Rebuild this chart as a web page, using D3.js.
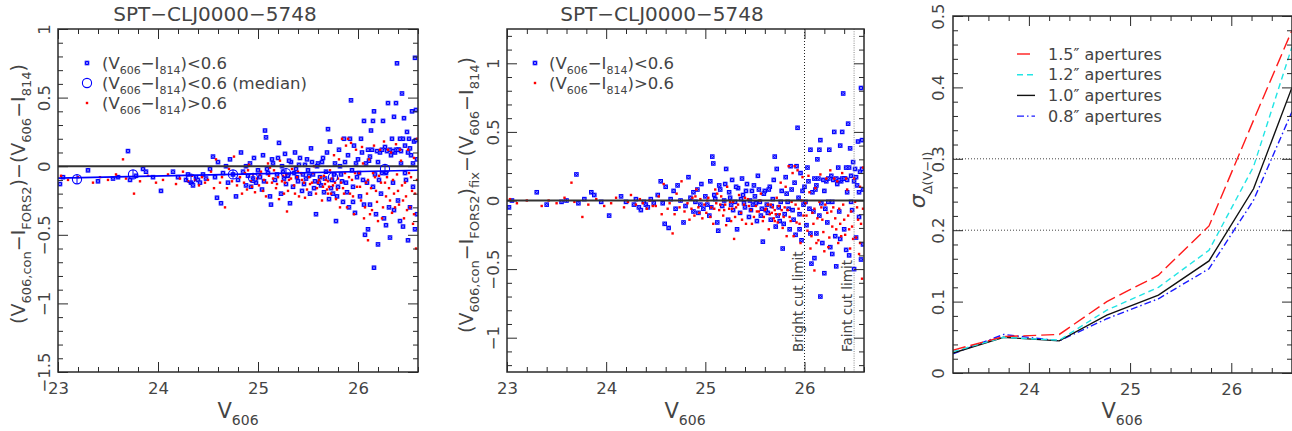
<!DOCTYPE html>
<html><head><meta charset="utf-8">
<script src="https://cdn.jsdelivr.net/npm/d3@7"></script>
<style>
body{margin:0;background:#fff}
svg{display:block}
text{font-family:"DejaVu Sans","Liberation Sans",Arial,sans-serif;fill:#444;font-weight:400}
</style></head>
<body><svg id="c" width="1292" height="431"></svg>
<script>
// ---------------- DATA ----------------
const titleText = "SPT\u2212CLJ0000\u22125748";
const xMajor = [23, 24, 25, 26];
const p1YMajor = [1, 0.5, 0, -0.5, -1, -1.5];
const p2YMajor = [1, 0.5, 0, -0.5, -1];
const p3XMajor = [24, 25, 26];
const p3YMajor = [0, 0.1, 0.2, 0.3, 0.4, 0.5];

// Panel 1: (V606,con - I_FORS2) - (V606 - I814) vs V606
const p1Blue = [[23.02,-0.13],[23.05,-0.08],[23.3,-0.03],[23.4,-0.11],[23.55,-0.09],[23.6,-0.08],[23.7,0.11],[23.72,-0.1],[23.78,-0.07],[23.85,-0.02],[23.88,-0.04],[23.95,-0.08],[24.03,-0.18],[24.15,-0.04],[24.2,-0.08],[24.28,-0.1],[24.3,-0.06],[24.33,-0.12],[24.35,-0.14],[24.38,-0.08],[24.4,-0.1],[24.42,-0.12],[24.45,-0.06],[24.48,-0.09],
[24.52,-0.02],[24.55,0.07],[24.57,-0.08],[24.59,-0.23],[24.6,0.03],[24.63,-0.27],[24.65,-0.05],[24.68,0.0],[24.7,-0.12],[24.72,0.05],[24.75,-0.06],[24.78,-0.22],[24.8,-0.1],[24.83,0.1],[24.85,-0.04],[24.88,-0.14],[24.9,-0.07],[24.92,0.02],[24.95,-0.09],[24.96,0.06],[24.98,-0.12],[25.0,-0.03],
[25.02,-0.08],[25.04,-0.17],[25.05,0.08],[25.07,0.26],[25.08,0.21],[25.1,-0.05],[25.12,-0.22],[25.13,-0.28],[25.15,0.02],[25.17,-0.1],[25.2,0.06],[25.21,0.17],[25.23,-0.2],[25.25,-0.04],[25.27,0.09],[25.28,-0.13],[25.3,-0.07],[25.32,-0.27],[25.33,0.03],[25.35,-0.15],[25.37,0.1],[25.38,-0.02],[25.4,-0.11],[25.42,0.06],[25.44,-0.18],[25.45,-0.06],[25.47,0.01],[25.48,-0.09],[25.5,-0.03],
[25.52,-0.2],[25.53,0.13],[25.55,-0.06],[25.57,-0.11],[25.58,-0.35],[25.6,0.02],[25.62,-0.08],[25.63,-0.14],[25.65,0.06],[25.66,-0.19],[25.68,-0.04],[25.7,0.27],[25.71,-0.24],[25.72,0.18],[25.74,-0.1],[25.75,-0.2],[25.77,0.02],[25.78,-0.4],[25.8,-0.15],[25.81,0.12],[25.83,-0.06],[25.85,-0.26],[25.86,0.2],[25.88,-0.12],[25.9,0.08],[25.91,-0.3],[25.93,0.48],[25.94,-0.03],[25.96,0.15],[25.97,-0.34],[25.99,-0.08],[26.0,0.05],
[26.02,-0.22],[26.03,0.2],[26.05,-0.1],[26.06,0.33],[26.07,-0.5],[26.08,0.02],[26.1,-0.46],[26.1,0.12],[26.12,-0.28],[26.13,0.26],[26.15,0.33],[26.15,-0.15],[26.16,0.4],[26.16,-0.74],[26.18,-0.35],[26.2,-0.57],[26.2,0.03],[26.22,0.1],[26.23,-0.2],[26.25,0.33],[26.26,-0.38],[26.27,0.14],[26.28,-0.05],[26.3,0.46],[26.31,-0.3],[26.32,-0.52],[26.33,0.08],[26.34,0.2],[26.35,-0.12],[26.36,0.36],[26.37,0.1],[26.38,0.46],[26.39,0.75],[26.4,-0.25],[26.41,0.12],[26.42,-0.4],[26.43,0.02],[26.44,0.53],[26.45,-0.44],[26.46,0.35],[26.47,0.15],[26.48,-0.1],[26.49,0.25],[26.5,-0.54],[26.51,0.2],[26.52,-0.3],[26.53,0.08],[26.54,0.4],[26.55,-0.15],[26.56,0.18],[26.57,0.79],[26.57,-0.46],[26.58,0.41],[26.59,-0.35],[26.59,0.05],
[24.88,0.0],[24.93,-0.15],[25.06,-0.11],[25.09,-0.02],[25.14,0.05],[25.19,-0.06],[25.24,0.0],[25.26,-0.09],[25.31,0.04],[25.36,-0.05],[25.39,-0.08],[25.41,0.01],[25.46,-0.13],[25.49,0.05],[25.51,-0.07],[25.54,0.03],[25.56,-0.16],[25.59,0.0],[25.61,-0.12],[25.64,0.03],[25.67,-0.09],[25.69,0.1],[25.73,-0.16],[25.76,-0.06],[25.79,-0.22],[25.82,0.0],[25.84,-0.11],[25.87,0.03],[25.89,-0.19],[25.92,0.2],[25.95,-0.15],[25.98,0.02],[26.01,-0.05],[26.04,0.1],[26.09,-0.12],[26.11,0.04],[26.14,0.12],[26.17,-0.06],[26.19,0.11],[26.21,-0.1],[26.24,0.12],[26.29,0.11],[26.32,0.12],[26.35,0.11],[26.38,0.12],[26.4,0.12],[26.43,0.11],[26.45,0.2],[26.47,-0.05],[26.5,0.1],[26.52,0.13],[26.55,0.02],[26.58,0.19],[26.42,0.2],[26.36,-0.32],[26.28,-0.43],[26.24,-0.05],[26.12,0.07],[26.06,-0.28],[25.95,-0.26]];

const p1Red = [[23.03,-0.07],[23.1,-0.1],[23.2,-0.08],[23.35,-0.12],[23.42,-0.08],[23.5,-0.1],[23.58,-0.06],[23.65,0.05],[23.68,-0.09],[23.76,-0.2],[23.82,-0.11],[23.9,-0.07],[23.98,-0.12],[24.05,-0.1],[24.1,-0.06],[24.18,-0.13],[24.22,-0.09],[24.25,-0.04],[24.3,-0.11],[24.34,-0.07],[24.37,-0.1],[24.41,-0.14],[24.44,-0.08],[24.47,-0.12],
[24.5,-0.1],[24.53,-0.04],[24.56,-0.16],[24.58,0.05],[24.62,-0.12],[24.64,-0.08],[24.67,-0.3],[24.69,-0.16],[24.71,-0.02],[24.74,-0.11],[24.76,0.07],[24.79,-0.14],[24.82,-0.08],[24.84,-0.2],[24.87,-0.05],[24.89,-0.17],[24.91,0.01],[24.93,-0.11],[24.95,-0.06],[24.97,-0.19],[24.99,-0.09],
[25.01,-0.14],[25.03,-0.04],[25.06,-0.1],[25.08,-0.22],[25.1,0.02],[25.11,-0.07],[25.14,-0.12],[25.16,-0.03],[25.18,-0.16],[25.2,-0.08],[25.22,0.04],[25.24,-0.11],[25.26,-0.2],[25.28,-0.06],[25.29,-0.33],[25.31,-0.1],[25.34,-0.02],[25.36,-0.14],[25.39,-0.08],[25.41,-0.22],[25.43,-0.05],[25.46,-0.12],[25.49,-0.17],
[25.51,-0.08],[25.54,-0.12],[25.56,0.0],[25.59,-0.16],[25.61,-0.1],[25.64,-0.25],[25.66,-0.07],[25.67,-0.13],[25.69,-0.17],[25.7,-0.11],[25.72,-0.03],[25.73,-0.2],[25.75,-0.14],[25.76,0.08],[25.78,-0.24],[25.8,-0.09],[25.82,-0.3],[25.84,0.2],[25.85,-0.16],[25.87,-0.05],[25.89,-0.3],[25.9,0.2],[25.92,-0.2],[25.94,-0.1],[25.96,-0.35],[25.98,0.12],[25.99,-0.15],
[26.01,-0.05],[26.03,-0.25],[26.04,0.14],[26.06,-0.38],[26.08,-0.12],[26.09,-0.2],[26.1,-0.54],[26.11,0.05],[26.13,-0.16],[26.14,-0.32],[26.16,0.15],[26.17,-0.08],[26.19,-0.26],[26.2,-0.4],[26.22,0.12],[26.23,-0.12],[26.25,-0.3],[26.26,0.18],[26.28,-0.22],[26.29,-0.08],[26.31,-0.16],[26.33,0.1],[26.34,-0.34],[26.36,-0.2],[26.38,0.16],[26.39,-0.06],[26.41,-0.28],[26.43,0.04],[26.44,-0.14],[26.46,-0.38],[26.48,-0.22],[26.5,0.12],[26.52,-0.3],[26.53,-0.08],[26.55,-0.42],[26.56,0.06],[26.57,-0.2],[26.58,-0.6],[26.59,0.2],
[24.86,-0.12],[24.9,-0.03],[24.94,-0.15],[25.02,-0.06],[25.05,-0.18],[25.09,-0.12],[25.12,-0.01],[25.15,-0.09],[25.19,-0.13],[25.21,-0.24],[25.25,-0.07],[25.27,-0.12],[25.3,-0.18],[25.33,-0.09],[25.37,-0.2],[25.4,-0.04],[25.44,-0.1],[25.47,-0.23],[25.52,-0.13],[25.55,-0.05],[25.58,-0.2],[25.6,-0.12],[25.63,-0.08],[25.65,-0.15],[25.68,-0.1],[25.7,-0.2],[25.71,-0.15],[25.74,-0.09],[25.77,-0.12],[25.79,-0.17],[25.81,0.05],[25.83,-0.12],[25.86,-0.2],[25.88,0.15],[25.91,-0.08],[25.93,0.17],[25.95,-0.22],[25.97,-0.05],[26.02,-0.15],[26.05,0.02],[26.07,-0.3],[26.1,-0.1],[26.12,-0.35],[26.15,-0.05],[26.18,-0.18],[26.21,-0.07],[26.24,-0.38],[26.27,-0.12],[26.3,0.12],[26.32,-0.25],[26.35,-0.1],[26.37,-0.3],[26.4,-0.18],[26.42,0.12],[26.45,-0.25],[26.47,-0.12],[26.49,-0.32],[26.51,-0.05],[26.54,-0.18],[26.56,-0.35],[26.59,-0.1]];

const p1MedianX = [23.19, 23.75, 24.33, 24.75, 24.95, 25.28, 25.75, 26.27];
const p1MedianY = [-0.095, -0.06, -0.09, -0.06, -0.085, -0.05, -0.08, -0.02];
const p1MedianErr = [0.033, 0.033, 0.033, 0.033, 0.033, 0.033, 0.033, 0.033];
const p1FitX = [23, 26.6];
const p1FitY = [-0.087, -0.03];

// Panel 2: fixed offsets
const p2Blue = [[23.02,-0.05],[23.05,0.0],[23.3,0.06],[23.4,-0.03],[23.55,-0.01],[23.6,0.0],[23.7,0.19],[23.72,-0.02],[23.78,0.01],[23.85,0.06],[23.88,0.04],[23.95,-0.01],[24.03,-0.11],[24.15,0.03],[24.2,-0.01],[24.28,-0.03],[24.3,0.01],[24.33,-0.05],[24.35,-0.07],[24.38,-0.01],[24.4,-0.03],[24.42,-0.05],[24.45,0.01],[24.48,-0.02],
[24.52,0.04],[24.55,0.14],[24.57,-0.02],[24.59,-0.17],[24.6,0.1],[24.63,-0.2],[24.65,0.01],[24.68,0.07],[24.7,-0.06],[24.72,0.11],[24.75,0.0],[24.78,-0.16],[24.8,-0.04],[24.83,0.17],[24.85,0.02],[24.88,-0.08],[24.9,-0.01],[24.92,0.08],[24.95,-0.03],[24.96,0.12],[24.98,-0.06],[25.0,0.03],
[25.02,-0.03],[25.04,-0.11],[25.05,0.14],[25.07,0.32],[25.08,0.27],[25.1,0.01],[25.12,-0.16],[25.13,-0.22],[25.15,0.08],[25.17,-0.04],[25.2,0.12],[25.21,0.23],[25.23,-0.14],[25.25,0.02],[25.27,0.15],[25.28,-0.07],[25.3,-0.01],[25.32,-0.21],[25.33,0.09],[25.35,-0.09],[25.37,0.16],[25.38,0.04],[25.4,-0.05],[25.42,0.12],[25.44,-0.12],[25.45,0.0],[25.47,0.07],[25.48,-0.03],[25.5,0.03],
[25.52,-0.15],[25.53,0.18],[25.55,-0.01],[25.57,-0.06],[25.58,-0.3],[25.6,0.07],[25.62,-0.03],[25.63,-0.09],[25.65,0.1],[25.66,-0.14],[25.68,0.01],[25.7,0.32],[25.71,-0.19],[25.72,0.23],[25.74,-0.05],[25.75,-0.15],[25.77,0.07],[25.78,-0.35],[25.8,-0.1],[25.81,0.17],[25.83,-0.01],[25.85,-0.21],[25.86,0.25],[25.88,-0.07],[25.9,0.13],[25.91,-0.25],[25.93,0.53],[25.94,0.02],[25.96,0.2],[25.97,-0.29],[25.99,-0.03],[26.0,0.1],
[26.02,-0.18],[26.03,0.24],[26.05,-0.06],[26.06,0.37],[26.07,-0.46],[26.08,0.06],[26.1,-0.42],[26.1,0.16],[26.12,-0.24],[26.13,0.3],[26.15,0.37],[26.15,-0.11],[26.16,0.44],[26.16,-0.7],[26.18,-0.31],[26.2,-0.53],[26.2,0.07],[26.22,0.14],[26.23,-0.16],[26.25,0.37],[26.26,-0.34],[26.27,0.18],[26.28,-0.01],[26.3,0.5],[26.31,-0.26],[26.32,-0.48],[26.33,0.12],[26.34,0.24],[26.35,-0.08],[26.36,0.4],[26.37,0.14],[26.38,0.5],[26.39,0.78],[26.4,-0.21],[26.41,0.16],[26.42,-0.36],[26.43,0.06],[26.44,0.56],[26.45,-0.4],[26.46,0.38],[26.47,0.18],[26.48,-0.07],[26.49,0.28],[26.5,-0.5],[26.51,0.23],[26.52,-0.27],[26.53,0.11],[26.54,0.43],[26.55,-0.12],[26.56,0.21],[26.57,0.82],[26.57,-0.43],[26.58,0.44],[26.59,-0.32],[26.59,0.08],
[24.88,0.06],[24.93,-0.09],[25.06,-0.05],[25.09,0.04],[25.14,0.11],[25.19,0.0],[25.24,0.06],[25.26,-0.03],[25.31,0.1],[25.36,0.01],[25.39,-0.02],[25.41,0.07],[25.46,-0.07],[25.49,0.11],[25.51,-0.02],[25.54,0.08],[25.56,-0.11],[25.59,0.05],[25.61,-0.07],[25.64,0.08],[25.67,-0.04],[25.69,0.15],[25.73,-0.11],[25.76,-0.01],[25.79,-0.17],[25.82,0.05],[25.84,-0.06],[25.87,0.08],[25.89,-0.14],[25.92,0.25],[25.95,-0.1],[25.98,0.07],[26.01,-0.01],[26.04,0.14],[26.09,-0.08],[26.11,0.08],[26.14,0.16],[26.17,-0.02],[26.19,0.15],[26.21,-0.06],[26.24,0.16],[26.29,0.15],[26.32,0.16],[26.35,0.15],[26.38,0.16],[26.4,0.16],[26.43,0.15],[26.45,0.24],[26.47,-0.01],[26.5,0.14],[26.52,0.17],[26.55,0.06],[26.58,0.23],[26.42,0.24],[26.36,-0.28],[26.28,-0.39],[26.24,-0.01],[26.12,0.11],[26.06,-0.24],[25.95,-0.21]];

const p2Red = [[23.03,0.01],[23.1,-0.02],[23.2,0.0],[23.35,-0.04],[23.42,0.0],[23.5,-0.02],[23.58,0.02],[23.65,0.13],[23.68,-0.01],[23.76,-0.12],[23.82,-0.03],[23.9,0.01],[23.98,-0.04],[24.05,-0.02],[24.1,0.02],[24.18,-0.05],[24.22,-0.01],[24.25,0.04],[24.3,-0.03],[24.34,0.01],[24.37,-0.02],[24.41,-0.06],[24.44,0.0],[24.47,-0.04],
[24.5,-0.04],[24.53,0.03],[24.56,-0.1],[24.58,0.12],[24.62,-0.06],[24.64,-0.02],[24.67,-0.24],[24.69,-0.1],[24.71,0.05],[24.74,-0.05],[24.76,0.14],[24.79,-0.08],[24.82,-0.02],[24.84,-0.14],[24.87,0.02],[24.89,-0.11],[24.91,0.08],[24.93,-0.05],[24.95,0.01],[24.97,-0.13],[24.99,-0.03],
[25.01,-0.09],[25.03,0.02],[25.06,-0.05],[25.08,-0.17],[25.1,0.08],[25.11,-0.02],[25.14,-0.07],[25.16,0.03],[25.18,-0.11],[25.2,-0.03],[25.22,0.1],[25.24,-0.06],[25.26,-0.15],[25.28,-0.01],[25.29,-0.28],[25.31,-0.05],[25.34,0.04],[25.36,-0.09],[25.39,-0.03],[25.41,-0.17],[25.43,0.01],[25.46,-0.07],[25.49,-0.12],
[25.51,-0.04],[25.54,-0.08],[25.56,0.05],[25.59,-0.12],[25.61,-0.06],[25.64,-0.21],[25.66,-0.03],[25.67,-0.09],[25.69,-0.13],[25.7,-0.07],[25.72,0.02],[25.73,-0.16],[25.75,-0.1],[25.76,0.13],[25.78,-0.2],[25.8,-0.05],[25.82,-0.26],[25.84,0.25],[25.85,-0.12],[25.87,-0.01],[25.89,-0.26],[25.9,0.25],[25.92,-0.16],[25.94,-0.06],[25.96,-0.31],[25.98,0.17],[25.99,-0.11],
[26.01,-0.02],[26.03,-0.22],[26.04,0.18],[26.06,-0.35],[26.08,-0.09],[26.09,-0.17],[26.1,-0.51],[26.11,0.09],[26.13,-0.13],[26.14,-0.29],[26.16,0.19],[26.17,-0.05],[26.19,-0.23],[26.2,-0.37],[26.22,0.16],[26.23,-0.09],[26.25,-0.27],[26.26,0.22],[26.28,-0.19],[26.29,-0.05],[26.31,-0.13],[26.33,0.14],[26.34,-0.31],[26.36,-0.17],[26.38,0.2],[26.39,-0.03],[26.41,-0.25],[26.43,0.08],[26.44,-0.11],[26.46,-0.35],[26.48,-0.19],[26.5,0.16],[26.52,-0.27],[26.53,-0.05],[26.55,-0.39],[26.56,0.1],[26.57,-0.17],[26.58,-0.57],[26.59,0.24],
[24.86,-0.06],[24.9,0.03],[24.94,-0.09],[25.02,0.0],[25.05,-0.12],[25.09,-0.06],[25.12,0.05],[25.15,-0.03],[25.19,-0.07],[25.21,-0.18],[25.25,-0.01],[25.27,-0.06],[25.3,-0.12],[25.33,-0.03],[25.37,-0.14],[25.4,0.02],[25.44,-0.04],[25.47,-0.17],[25.52,-0.08],[25.55,0.0],[25.58,-0.15],[25.6,-0.07],[25.63,-0.03],[25.65,-0.1],[25.68,-0.05],[25.7,-0.15],[25.71,-0.1],[25.74,-0.04],[25.77,-0.07],[25.79,-0.12],[25.81,0.1],[25.83,-0.07],[25.86,-0.15],[25.88,0.2],[25.91,-0.03],[25.93,0.22],[25.95,-0.17],[25.97,0.0],[26.02,-0.11],[26.05,0.06],[26.07,-0.26],[26.1,-0.06],[26.12,-0.31],[26.15,-0.01],[26.18,-0.14],[26.21,-0.03],[26.24,-0.34],[26.27,-0.08],[26.3,0.16],[26.32,-0.21],[26.35,-0.06],[26.37,-0.26],[26.4,-0.14],[26.42,0.16],[26.45,-0.21],[26.47,-0.08],[26.49,-0.28],[26.51,-0.01],[26.54,-0.14],[26.56,-0.31],[26.59,-0.06]];

const p2CutX = [26.0, 26.5];
const p2CutLabels = ["Bright cut limit", "Faint cut limit"];

// Panel 3: sigma of Delta(V-I) per aperture
const p3X = [23.25, 23.75, 24.3, 24.77, 25.28, 25.78, 26.22, 26.6];
const ap15 = [0.032, 0.051, 0.054, 0.100, 0.137, 0.206, 0.354, 0.480];
const ap12 = [0.030, 0.050, 0.046, 0.088, 0.120, 0.172, 0.289, 0.457];
const ap10 = [0.028, 0.050, 0.045, 0.081, 0.109, 0.157, 0.258, 0.400];
const ap08 = [0.027, 0.054, 0.045, 0.076, 0.104, 0.146, 0.242, 0.366];
const apLabels = ["1.5\u2033 apertures", "1.2\u2033 apertures", "1.0\u2033 apertures", "0.8\u2033 apertures"];
const p3RefLines = [0.2, 0.3];

// ---------------- DRAWING ----------------
const svg = d3.select("#c");
const BLUE = "#0000ff", RED = "#ff0000", INK = "#2a2a2a", TXT = "#444";
const fmt = d => d3.format("~g")(d);

function rich(sel, parts, base, sub) {
  let prev = "n";
  parts.forEach(([t, k]) => {
    const ts = sel.append("tspan").text(t);
    if (k === "s") {
      ts.attr("font-size", sub);
      if (prev !== "s") ts.attr("dy", base * 0.32);
    } else if (prev === "s") ts.attr("dy", -base * 0.32);
    prev = k;
  });
}

function axes(g, x, y, o) {
  const [x0, x1] = x.range(), [y0, y1] = y.range();
  const style = a => a.attr("font-family", '"DejaVu Sans",sans-serif').attr("font-size", 16.5).attr("color", INK)
      .call(s => s.select(".domain").remove());
  g.append("g").attr("transform", `translate(0,${y0})`)
    .call(d3.axisBottom(x).tickValues(o.xMaj).tickSize(-10).tickPadding(10).tickFormat(fmt)).call(style)
    .selectAll("text").attr("fill", TXT);
  g.append("g").attr("transform", `translate(0,${y0})`)
    .call(d3.axisBottom(x).tickValues(o.xMin).tickSize(-5).tickFormat("")).call(style);
  g.append("g").attr("transform", `translate(0,${y1})`)
    .call(d3.axisTop(x).tickValues(o.xMaj).tickSize(-10).tickFormat("")).call(style);
  g.append("g").attr("transform", `translate(0,${y1})`)
    .call(d3.axisTop(x).tickValues(o.xMin).tickSize(-5).tickFormat("")).call(style);
  const la = g.append("g").attr("transform", `translate(${x0},0)`)
    .call(d3.axisLeft(y).tickValues(o.yMaj).tickSize(-10).tickFormat(fmt)).call(style);
  la.selectAll(".tick text").attr("x", 0).attr("dy", 0).attr("text-anchor", "middle").attr("fill", TXT)
    .attr("transform", `translate(${-o.yLabOff},0) rotate(-90)`);
  g.append("g").attr("transform", `translate(${x0},0)`)
    .call(d3.axisLeft(y).tickValues(o.yMin).tickSize(-5).tickFormat("")).call(style);
  g.append("g").attr("transform", `translate(${x1},0)`)
    .call(d3.axisRight(y).tickValues(o.yMaj).tickSize(-10).tickFormat("")).call(style);
  g.append("g").attr("transform", `translate(${x1},0)`)
    .call(d3.axisRight(y).tickValues(o.yMin).tickSize(-5).tickFormat("")).call(style);
  g.append("rect").attr("x", x0).attr("y", y1).attr("width", x1 - x0).attr("height", y0 - y1)
    .attr("fill", "none").attr("stroke", INK).attr("stroke-width", 1.5);
}

function minorVals(a, b, step, majors) {
  return d3.range(Math.round(a / step), Math.round(b / step) + 1).map(i => +(i * step).toFixed(4))
    .filter(v => v >= a - 1e-9 && v <= b + 1e-9 && !majors.some(m => Math.abs(m - v) < 1e-6));
}

const blueSq = "M-2.3,-2.3h4.6v4.6h-4.6z";
const blueX = "M-1.3,-1.3L1.3,1.3M1.3,-1.3L-1.3,1.3";
function blueMark(sel) {
  sel.append("path").attr("d", blueSq).attr("fill", BLUE);
  sel.append("path").attr("d", blueX).attr("stroke", "#9a9aff").attr("stroke-width", 0.8).attr("fill", "none");
}

function scatter(g, x, y, blue, red, clipId) {
  const [x0, x1] = x.range(), [y0, y1] = y.range();
  svg.append("clipPath").attr("id", clipId).append("rect")
    .attr("x", x0).attr("y", y1).attr("width", x1 - x0).attr("height", y0 - y1);
  const c = g.append("g").attr("clip-path", `url(#${clipId})`);
  c.append("g").selectAll("g").data(blue).join("g")
    .attr("transform", d => `translate(${x(d[0])},${y(d[1])})`).call(blueMark);
  c.append("g").selectAll("rect").data(red).join("rect")
    .attr("x", d => x(d[0]) - 1.2).attr("y", d => y(d[1]) - 1.2).attr("width", 2.4).attr("height", 2.4)
    .attr("fill", RED);
  return c;
}

function vLabel(g, cx, cy, parts, base, sub) {
  const t = g.append("text").attr("font-size", base).attr("text-anchor", "middle")
    .attr("transform", `translate(${cx},${cy}) rotate(-90)`);
  rich(t, parts, base, sub);
  return t;
}
function hLabel(g, cx, cy, parts, base, sub, anchor) {
  const t = g.append("text").attr("font-size", base).attr("text-anchor", anchor || "middle")
    .attr("x", cx).attr("y", cy);
  rich(t, parts, base, sub);
  return t;
}
const xLabParts = [["V", "n"], ["606", "s"]];
const vmiParts = [["(V", "n"], ["606", "s"], ["\u2212I", "n"], ["814", "s"], [")", "n"]];

// ---------- Panel 1 ----------
{
  const g = svg.append("g");
  const x = d3.scaleLinear().domain([23, 26.6]).range([58, 418]);
  const y = d3.scaleLinear().domain([-1.5, 1]).range([372, 29]);
  const c = scatter(g, x, y, p1Blue, p1Red, "clip1");
  c.append("line").attr("x1", x(23)).attr("x2", x(26.6)).attr("y1", y(0)).attr("y2", y(0))
    .attr("stroke", "#333").attr("stroke-width", 2);
  c.append("path").datum(p1FitX.map((v, i) => [v, p1FitY[i]]))
    .attr("d", d3.line().x(d => x(d[0])).y(d => y(d[1])))
    .attr("fill", "none").attr("stroke", BLUE).attr("stroke-width", 1.6);
  const med = p1MedianX.map((v, i) => [v, p1MedianY[i], p1MedianErr[i]]);
  c.append("g").selectAll("circle").data(med).join("circle")
    .attr("cx", d => x(d[0])).attr("cy", d => y(d[1])).attr("r", 4.6)
    .attr("fill", "none").attr("stroke", BLUE).attr("stroke-width", 1.1);
  c.append("g").selectAll("line").data(med).join("line")
    .attr("x1", d => x(d[0])).attr("x2", d => x(d[0]))
    .attr("y1", d => y(d[1] - d[2])).attr("y2", d => y(d[1] + d[2]))
    .attr("stroke", BLUE).attr("stroke-width", 1);
  axes(g, x, y, { xMaj: xMajor, xMin: minorVals(23, 26.6, 0.2, xMajor),
    yMaj: p1YMajor, yMin: minorVals(-1.5, 1, 0.1, p1YMajor), yLabOff: 8.5 });
  g.append("text").attr("x", 215).attr("y", 21).attr("text-anchor", "middle").attr("font-size", 20)
    .text(titleText);
  hLabel(g, 238, 418, xLabParts, 21, 14);
  vLabel(g, 25, 194, [["(V", "n"], ["606,con", "s"], ["\u2212I", "n"], ["FORS2", "s"], [")\u2212(V", "n"], ["606", "s"], ["\u2212I", "n"], ["814", "s"], [")", "n"]], 19, 13);
  // legend
  g.append("g").attr("transform", "translate(87,63)").call(blueMark);
  g.append("circle").attr("cx", 87).attr("cy", 83).attr("r", 4.6).attr("fill", "none").attr("stroke", BLUE).attr("stroke-width", 1.1);
  g.append("rect").attr("x", 85.8).attr("y", 101.8).attr("width", 2.4).attr("height", 2.4).attr("fill", RED);
  hLabel(g, 102, 69, vmiParts.concat([["<0.6", "n"]]), 16.5, 11, "start");
  hLabel(g, 102, 89, vmiParts.concat([["<0.6 (median)", "n"]]), 16.5, 11, "start");
  hLabel(g, 102, 109, vmiParts.concat([[">0.6", "n"]]), 16.5, 11, "start");
}

// ---------- Panel 2 ----------
{
  const g = svg.append("g");
  const x = d3.scaleLinear().domain([23, 26.6]).range([507, 864]);
  const y = d3.scaleLinear().domain([-1.25, 1.25]).range([372, 29]);
  const c = scatter(g, x, y, p2Blue, p2Red, "clip2");
  c.append("line").attr("x1", x(23)).attr("x2", x(26.6)).attr("y1", y(0)).attr("y2", y(0))
    .attr("stroke", "#333").attr("stroke-width", 2);
  g.append("g").selectAll("line").data(p2CutX).join("line")
    .attr("x1", d => x(d)).attr("x2", d => x(d)).attr("y1", y(1.25)).attr("y2", y(-1.25))
    .attr("stroke", (d, i) => i === 0 ? "#222" : "#888").attr("stroke-width", 1)
    .attr("stroke-dasharray", (d, i) => i === 0 ? "1,2" : "1,1.3");
  g.append("g").selectAll("text").data(p2CutX).join("text")
    .attr("transform", d => `translate(${x(d) - 2},352) rotate(-90)`)
    .attr("font-size", 13.5).attr("text-anchor", "start")
    .text((d, i) => p2CutLabels[i]);
  axes(g, x, y, { xMaj: xMajor, xMin: minorVals(23, 26.6, 0.2, xMajor),
    yMaj: p2YMajor, yMin: minorVals(-1.25, 1.25, 0.1, p2YMajor), yLabOff: 8.5 });
  g.append("text").attr("x", 662).attr("y", 21).attr("text-anchor", "middle").attr("font-size", 20)
    .text(titleText);
  hLabel(g, 685, 418, xLabParts, 21, 14);
  vLabel(g, 473, 195, [["(V", "n"], ["606,con", "s"], ["\u2212I", "n"], ["FORS2", "s"], [")", "n"], ["fix", "s"], ["\u2212(V", "n"], ["606", "s"], ["\u2212I", "n"], ["814", "s"], [")", "n"]], 19, 13);
  g.append("g").attr("transform", "translate(535,63)").call(blueMark);
  g.append("rect").attr("x", 533.8).attr("y", 81.8).attr("width", 2.4).attr("height", 2.4).attr("fill", RED);
  hLabel(g, 549, 69, vmiParts.concat([["<0.6", "n"]]), 16.5, 11, "start");
  hLabel(g, 549, 89, vmiParts.concat([[">0.6", "n"]]), 16.5, 11, "start");
}

// ---------- Panel 3 ----------
{
  const g = svg.append("g");
  const x = d3.scaleLinear().domain([23.25, 26.6]).range([953, 1292]);
  const y = d3.scaleLinear().domain([0, 0.5]).range([373, 16]);
  svg.append("clipPath").attr("id", "clip3").append("rect")
    .attr("x", 953).attr("y", 16).attr("width", 339).attr("height", 357);
  const c = g.append("g").attr("clip-path", "url(#clip3)");
  c.append("g").selectAll("line").data(p3RefLines).join("line")
    .attr("x1", x(23.25)).attr("x2", x(26.6)).attr("y1", d => y(d)).attr("y2", d => y(d))
    .attr("stroke", "#444").attr("stroke-width", 1).attr("stroke-dasharray", "1,2");
  const series = [
    { v: ap15, color: "#ff1a1a", dash: "13,5" },
    { v: ap12, color: "#22e5e5", dash: "6,4" },
    { v: ap10, color: "#111", dash: null },
    { v: ap08, color: "#1a1aff", dash: "7,3,1.5,3" }
  ];
  const line = d3.line().x(d => x(d[0])).y(d => y(d[1]));
  series.slice().reverse().forEach(s => {
    c.append("path").datum(p3X.map((xv, i) => [xv, s.v[i]])).attr("d", line)
      .attr("fill", "none").attr("stroke", s.color).attr("stroke-width", 1.4)
      .attr("stroke-dasharray", s.dash);
  });
  axes(g, x, y, { xMaj: p3XMajor, xMin: minorVals(23.25, 26.6, 0.2, p3XMajor),
    yMaj: p3YMajor, yMin: minorVals(0, 0.5, 0.02, p3YMajor), yLabOff: 9.5 });
  hLabel(g, 1122, 418, xLabParts, 21, 14);
  const yl = g.append("text").attr("font-size", 22).attr("text-anchor", "middle")
    .attr("transform", "translate(925,180) rotate(-90)");
  yl.append("tspan").attr("font-style", "italic").text("\u03c3");
  yl.append("tspan").attr("font-size", 13).attr("dy", 7).text("\u0394(V\u2212I)");
  const lg = g.append("g");
  series.forEach((s, i) => {
    const yy = 54 + i * 20.7;
    lg.append("line").attr("x1", 1017).attr("x2", 1035).attr("y1", yy).attr("y2", yy)
      .attr("stroke", s.color).attr("stroke-width", 1.4).attr("stroke-dasharray", s.dash);
    lg.append("text").attr("x", 1048).attr("y", yy + 5.5).attr("font-size", 16).text(apLabels[i]);
  });
}
</script></body></html>
